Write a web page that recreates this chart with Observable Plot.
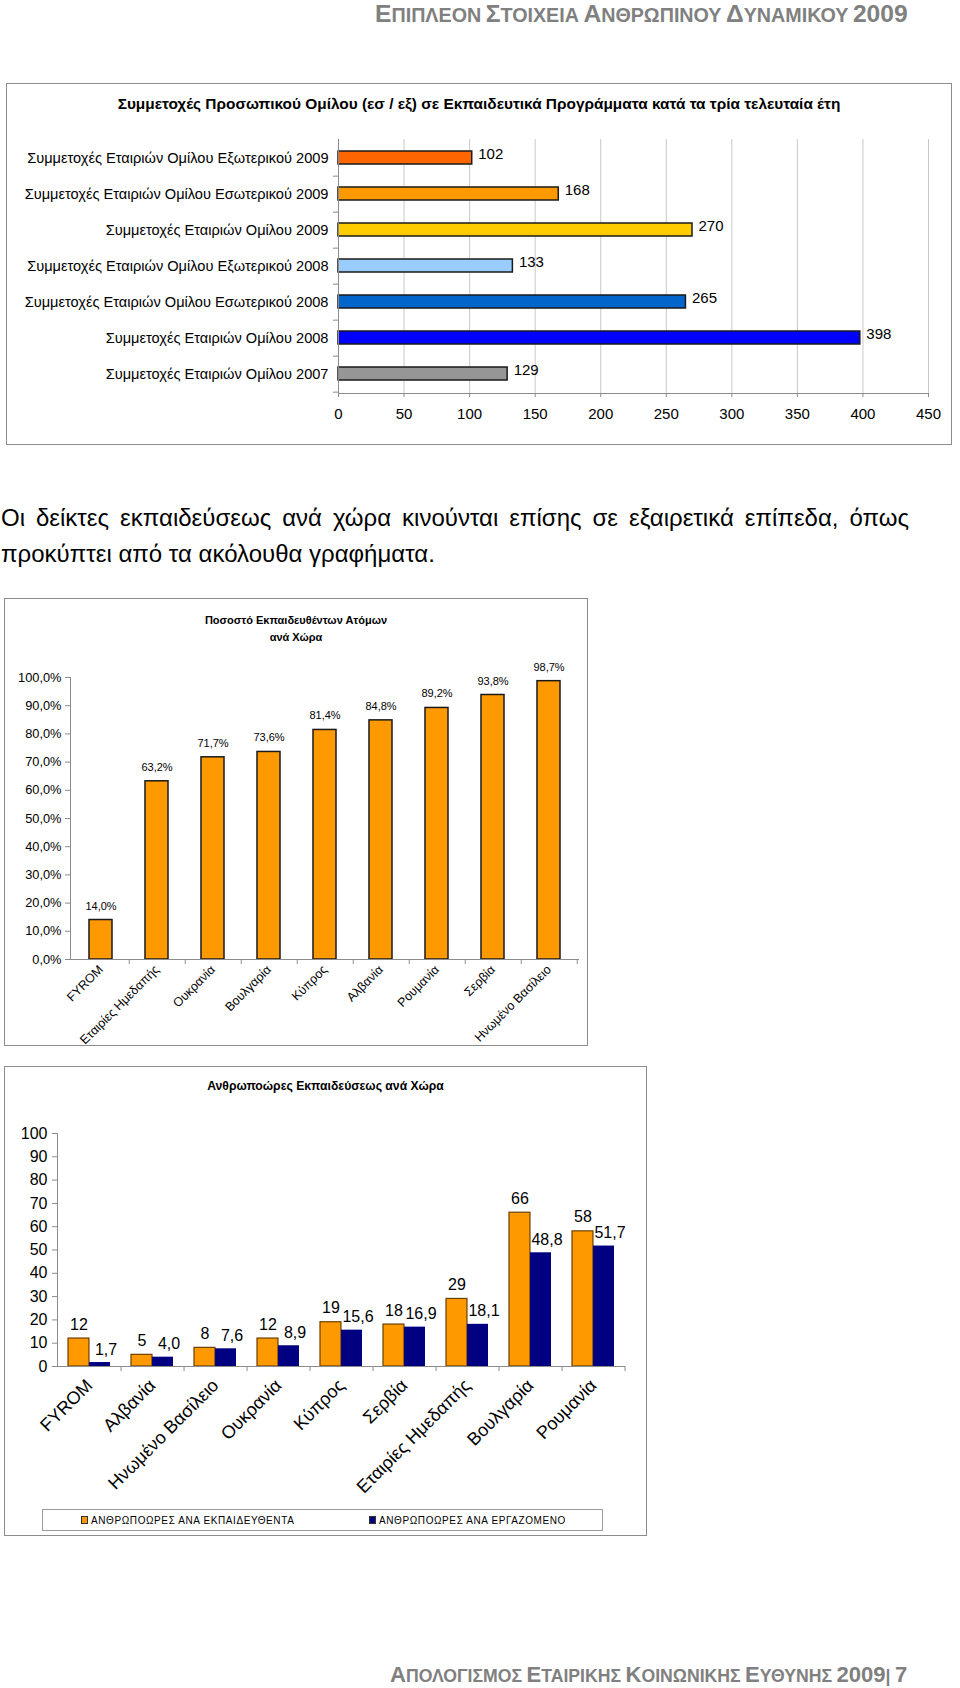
<!DOCTYPE html>
<html><head><meta charset="utf-8">
<script src="https://cdn.jsdelivr.net/npm/d3@7"></script>
<script src="https://cdn.jsdelivr.net/npm/@observablehq/plot@0.6"></script>
<style>
html,body{margin:0;padding:0;background:#fff}
body{width:960px;height:1688px;position:relative;overflow:hidden;font-family:"Liberation Sans",Arial,sans-serif;color:#000}
.abs{position:absolute}
.frame{position:absolute;border:1.5px solid #8c8c8c;box-sizing:border-box}
.sc{color:#808080;font-weight:bold;white-space:nowrap;position:absolute;line-height:1}
.sc .b{font-size:20px}.sc .s{font-size:16px}
.ctitle{position:absolute;font-weight:bold;text-align:center;white-space:nowrap;line-height:1}
.para{position:absolute;left:1px;font-size:24px;white-space:nowrap;line-height:1}
.leg{position:absolute;border:1px solid #9a9a9a;box-sizing:border-box;font-size:10px;letter-spacing:0.6px}
.sw{position:absolute;width:7px;height:8px;border:1px solid #333;box-sizing:border-box}
</style></head><body>

<div id="hdr" class="sc" style="top:2px"><span class="b">Ε</span><span class="s">ΠΙΠΛΕΟΝ</span> <span class="b">Σ</span><span class="s">ΤΟΙΧΕΙΑ</span> <span class="b">Α</span><span class="s">ΝΘΡΩΠΙΝΟΥ</span> <span class="b">Δ</span><span class="s">ΥΝΑΜΙΚΟΥ</span> <span class="b">2009</span></div>

<div class="frame" style="left:6px;top:83px;width:946px;height:362px"></div>
<div class="ctitle" style="left:6px;width:946px;top:96px;font-size:15.4px">Συμμετοχές Προσωπικού Ομίλου (εσ / εξ) σε Εκπαιδευτικά Προγράμματα κατά τα τρία τελευταία έτη</div>
<div id="c1" class="abs" style="left:0;top:130px"></div>

<div id="p1" class="para" style="top:506px">Οι δείκτες εκπαιδεύσεως ανά χώρα κινούνται επίσης σε εξαιρετικά επίπεδα, όπως</div>
<div id="p2" class="para" style="top:542px">προκύπτει από τα ακόλουθα γραφήματα.</div>

<div class="frame" style="left:4px;top:598px;width:584px;height:448px"></div>
<div class="ctitle" style="left:4px;width:584px;top:612px;font-size:11px;line-height:17px">Ποσοστό Εκπαιδευθέντων Ατόμων<br>ανά Χώρα</div>
<div id="c2" class="abs" style="left:0;top:650px"></div>

<div class="frame" style="left:4px;top:1066px;width:643px;height:470px"></div>
<div class="ctitle" style="left:4px;width:643px;top:1080px;font-size:12.2px">Ανθρωποώρες Εκπαιδεύσεως ανά Χώρα</div>
<div id="c3" class="abs" style="left:0;top:1110px"></div>
<div id="legend" class="leg" style="left:42px;top:1509px;width:561px;height:22px"></div>

<div id="ftr" class="sc" style="top:1664px"><span class="b">Α</span><span class="s">ΠΟΛΟΓΙΣΜΟΣ</span> <span class="b">Ε</span><span class="s">ΤΑΙΡΙΚΗΣ</span> <span class="b">Κ</span><span class="s">ΟΙΝΩΝΙΚΗΣ</span> <span class="b">Ε</span><span class="s">ΥΘΥΝΗΣ</span> <span class="b">2009</span><span class="s">|</span> <span class="b">7</span></div>

<script>
// ---------- Chart 1 data ----------
const c1Labels = [
  "Συμμετοχές Εταιριών Ομίλου Εξωτερικού 2009",
  "Συμμετοχές Εταιριών Ομίλου Εσωτερικού 2009",
  "Συμμετοχές Εταιριών Ομίλου 2009",
  "Συμμετοχές Εταιριών Ομίλου Εξωτερικού 2008",
  "Συμμετοχές Εταιριών Ομίλου Εσωτερικού 2008",
  "Συμμετοχές Εταιριών Ομίλου 2008",
  "Συμμετοχές Εταιριών Ομίλου 2007"
];
const c1Values = [102, 168, 270, 133, 265, 398, 129];
const c1Ticks = [0, 50, 100, 150, 200, 250, 300, 350, 400, 450];

// ---------- Chart 2 data ----------
const c2Countries = ["FYROM", "Εταιρίες Ημεδαπής", "Ουκρανία", "Βουλγαρία", "Κύπρος", "Αλβανία", "Ρουμανία", "Σερβία", "Ηνωμένο Βασίλειο"];
const c2Values = [14.0, 63.2, 71.7, 73.6, 81.4, 84.8, 89.2, 93.8, 98.7];
const c2Ticks = [0, 10, 20, 30, 40, 50, 60, 70, 80, 90, 100];

// ---------- Chart 3 data ----------
const c3Countries = ["FYROM", "Αλβανία", "Ηνωμένο Βασίλειο", "Ουκρανία", "Κύπρος", "Σερβία", "Εταιρίες Ημεδαπής", "Βουλγαρία", "Ρουμανία"];
const c3PerTrainee = [12, 5, 8, 12, 19, 18, 29, 66, 58];
const c3PerEmployee = [1.7, 4.0, 7.6, 8.9, 15.6, 16.9, 18.1, 48.8, 51.7];
const c3Ticks = [0, 10, 20, 30, 40, 50, 60, 70, 80, 90, 100];
const c3Series = ["ΑΝΘΡΩΠΟΩΡΕΣ ΑΝΑ ΕΚΠΑΙΔΕΥΘΕΝΤΑ", "ΑΝΘΡΩΠΟΩΡΕΣ ΑΝΑ ΕΡΓΑΖΟΜΕΝΟ"];

// ---------- styles ----------
const c1Colors = ["#FF6600", "#FF9900", "#FFCC00", "#99CCFF", "#0066CC", "#0000FF", "#969696"];
const c3Colors = ["#FF9900", "#000080"];
const axisGray = "#8c8c8c";
const FONT = '"Liberation Sans", Arial, sans-serif';
const st = (size) => ({fontFamily: FONT, fontSize: size + "px", background: "transparent", color: "#000", overflow: "visible"});
const fmtPct = (v) => v.toFixed(1).replace(".", ",") + "%";
const fmt1 = (v) => v.toFixed(1).replace(".", ",");

// ---------- Chart 1 ----------
const c1Data = c1Labels.map((label, i) => ({label, value: c1Values[i], color: c1Colors[i]}));
const c1Top = 9, c1Bottom = 47, c1H = 310;
const c1Step = (c1H - c1Top - c1Bottom) / c1Labels.length;
const chart1 = Plot.plot({
  width: 960, height: c1H, marginTop: c1Top, marginBottom: c1Bottom, marginLeft: 338, marginRight: 32,
  style: st(15),
  x: {domain: [0, 450]},
  y: {domain: c1Labels, paddingInner: 0.63, paddingOuter: 0.315},
  marks: [
    Plot.gridX(c1Ticks, {stroke: "#c8c8c8", strokeOpacity: 1}),
    Plot.barX(c1Data, {x: "value", y: "label", fill: "color", stroke: "#1a1a1a", strokeWidth: 1.5}),
    Plot.text(c1Data, {x: "value", y: "label", text: d => String(d.value), textAnchor: "start", dx: 6, dy: -4, fontSize: 15}),
    Plot.ruleX([0], {stroke: axisGray}),
    Plot.frame({anchor: "bottom", stroke: axisGray}),
    Plot.axisX({ticks: c1Ticks, tickSize: 4, tickPadding: 11, stroke: axisGray, label: null, fontSize: 15, tickFormat: d => String(d)}),
    Plot.axisY({tickSize: 0, tickPadding: 10, label: null, fontSize: 14.6}),
    Plot.axisY({tickSize: 5, tickFormat: () => "", label: null, stroke: axisGray, dy: c1Step / 2})
  ]
});
document.getElementById("c1").append(chart1);

// ---------- Chart 2 ----------
const c2Data = c2Countries.map((country, i) => ({country, value: c2Values[i]}));
const c2L = 70, c2R = 21, c2W = 600;
const c2Step = (c2W - c2L - c2R) / c2Countries.length;
const chart2 = Plot.plot({
  width: c2W, height: 395, marginTop: 27, marginBottom: 86, marginLeft: c2L, marginRight: c2R,
  style: st(12.5),
  x: {domain: c2Countries, paddingInner: 0.59, paddingOuter: 0.295},
  y: {domain: [0, 100]},
  marks: [
    Plot.barY(c2Data, {x: "country", y: "value", fill: "#FF9900", stroke: "#1a1a1a", strokeWidth: 1.5}),
    Plot.text(c2Data, {x: "country", y: "value", text: d => fmtPct(d.value), dy: -14, fontSize: 11}),
    Plot.ruleY([0], {stroke: axisGray}),
    Plot.frame({anchor: "left", stroke: axisGray}),
    Plot.axisY({ticks: c2Ticks, tickSize: 5, tickPadding: 4, tickFormat: fmtPct, label: null, stroke: axisGray, fontSize: 12.8}),
    Plot.axisX({tickSize: 0, tickRotate: -45, tickPadding: 8, label: null, fontSize: 12.5}),
    Plot.axisX({tickSize: 5, tickFormat: () => "", label: null, stroke: axisGray, dx: c2Step / 2})
  ]
});
document.getElementById("c2").append(chart2);

// ---------- Chart 3 ----------
const c3Data = c3Countries.map((country, i) => ({country, trainee: c3PerTrainee[i], employee: c3PerEmployee[i]}));
const c3L = 57, c3R = 35, c3W = 660;
const c3Step = (c3W - c3L - c3R) / c3Countries.length;
const c3PadIn = 1 / 3;
const c3Half = c3Step * (1 - c3PadIn) / 2;
const chart3 = Plot.plot({
  width: c3W, height: 390, marginTop: 23, marginBottom: 134, marginLeft: c3L, marginRight: c3R,
  style: st(16),
  x: {domain: c3Countries, paddingInner: c3PadIn, paddingOuter: c3PadIn / 2},
  y: {domain: [0, 100]},
  marks: [
    Plot.barY(c3Data, {x: "country", y: "trainee", fill: c3Colors[0], stroke: "#6b3f00", strokeWidth: 1.2, insetRight: c3Half}),
    Plot.barY(c3Data, {x: "country", y: "employee", fill: c3Colors[1], insetLeft: c3Half}),
    Plot.text(c3Data, {x: "country", y: "trainee", text: d => String(d.trainee), dx: -c3Half / 2, dy: -14, fontSize: 16}),
    Plot.text(c3Data, {x: "country", y: "employee", text: d => fmt1(d.employee), dx: c3Half / 2 + 6, dy: -13, fontSize: 16}),
    Plot.ruleY([0], {stroke: axisGray}),
    Plot.frame({anchor: "left", stroke: axisGray}),
    Plot.axisY({ticks: c3Ticks, tickSize: 5, tickPadding: 5, tickFormat: d => String(d), label: null, stroke: axisGray, fontSize: 16}),
    Plot.axisX({tickSize: 0, tickRotate: -45, tickPadding: 16, label: null, fontSize: 18}),
    Plot.axisX({tickSize: 5, tickFormat: () => "", label: null, stroke: axisGray, dx: c3Step / 2})
  ]
});
document.getElementById("c3").append(chart3);

// ---------- Legend ----------
const leg = document.getElementById("legend");
const legX = [38, 326];
c3Series.forEach((name, i) => {
  const sw = document.createElement("div");
  sw.className = "sw";
  sw.style.left = legX[i] + "px"; sw.style.top = "6px"; sw.style.background = c3Colors[i];
  leg.append(sw);
  const t = document.createElement("div");
  t.className = "abs";
  t.style.left = (legX[i] + 10) + "px"; t.style.top = "5px"; t.style.whiteSpace = "nowrap";
  t.textContent = name;
  leg.append(t);
});

// ---------- text fitting ----------
function fitRight(id, left, right) {
  const el = document.getElementById(id);
  const w = el.getBoundingClientRect().width;
  const k = (right - left) / w;
  el.querySelectorAll(".b").forEach(s => s.style.fontSize = (20 * k) + "px");
  el.querySelectorAll(".s").forEach(s => s.style.fontSize = (16 * k) + "px");
  el.style.left = left + "px";
}
fitRight("hdr", 375, 912);
fitRight("ftr", 390, 910);

(function justify() {
  const p1 = document.getElementById("p1"), p2 = document.getElementById("p2");
  const target = 908;
  let w = p1.getBoundingClientRect().width;
  if (w > target) {
    const fs = 24 * target / w;
    p1.style.fontSize = fs + "px"; p2.style.fontSize = fs + "px";
    w = p1.getBoundingClientRect().width;
  }
  const spaces = (p1.textContent.match(/ /g) || []).length;
  p1.style.wordSpacing = ((target - w) / spaces) + "px";
})();
</script>
</body></html>
